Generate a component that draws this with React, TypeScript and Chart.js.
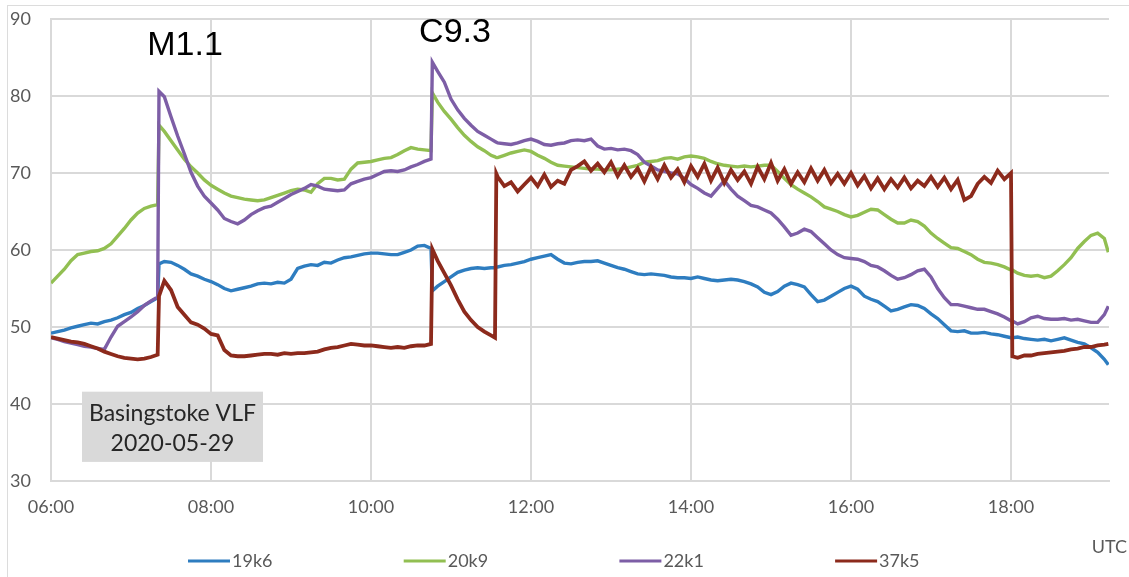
import React, { useEffect, useRef } from "react";
import { Chart, registerables } from "chart.js";

Chart.register(...registerables);

// Time axis: minutes after 06:00 UTC
const MINUTES = [
  0, 5, 10, 15, 20, 25, 30, 35, 40, 45, 50, 55, 60, 65, 70, 75, 80,
  81,
  85, 90, 95, 100, 105, 110, 115, 120, 125, 130, 135, 140, 145, 150, 155, 160, 165, 170, 175, 180,
  185, 190, 195, 200, 205, 210, 215, 220, 225, 230, 235, 240, 245, 250, 255, 260, 265, 270, 275, 280, 285,
  286,
  290, 295, 300, 305, 310, 315, 320, 325, 330,
  333, 334,
  335, 340, 345, 350, 355, 360, 365, 370, 375, 380, 385, 390, 395, 400, 405, 410, 415, 420,
  425, 430, 435, 440, 445, 450, 455, 460, 465, 470, 475, 480, 485, 490, 495, 500, 505, 510, 515, 520, 525, 530, 535, 540,
  545, 550, 555, 560, 565, 570, 575, 580, 585, 590, 595, 600, 605, 610, 615, 620, 625, 630, 635, 640, 645, 650, 655, 660,
  665, 670, 675, 680, 685, 690, 695, 700, 705, 710, 715, 720,
  721,
  725, 730, 735, 740, 745, 750, 755, 760, 765, 770, 775, 780, 785, 790,
  793,
];

const S19K6 = [
  49.2, 49.4, 49.6, 49.9, 50.1, 50.3, 50.5, 50.4, 50.7, 50.9, 51.2, 51.6, 51.9, 52.4, 52.8, 53.3, 53.8,
  58.2,
  58.5, 58.4, 58.0, 57.5, 56.9, 56.6, 56.2, 55.9, 55.5, 55.0, 54.7, 54.9, 55.1, 55.3, 55.6, 55.7, 55.6, 55.8, 55.7, 56.2,
  57.6, 57.9, 58.1, 58.0, 58.4, 58.3, 58.7, 59.0, 59.1, 59.3, 59.5, 59.6, 59.6, 59.5, 59.4, 59.4, 59.7, 60.0, 60.5, 60.6, 60.2,
  54.7,
  55.3, 55.9, 56.5, 57.1, 57.4, 57.6, 57.7, 57.6, 57.7,
  57.7, 57.8,
  57.8, 58.0, 58.1, 58.3, 58.5, 58.8, 59.0, 59.2, 59.4, 58.8, 58.3, 58.2, 58.4, 58.5, 58.5, 58.6, 58.3, 58.0,
  57.7, 57.5, 57.2, 56.9, 56.8, 56.9, 56.8, 56.7, 56.5, 56.4, 56.4, 56.3, 56.5, 56.3, 56.1, 56.0, 56.1, 56.2, 56.1, 55.9, 55.6, 55.2, 54.5, 54.2,
  54.6, 55.3, 55.7, 55.5, 55.2, 54.2, 53.3, 53.5, 54.0, 54.5, 55.0, 55.3, 54.9, 54.0, 53.6, 53.3, 52.7, 52.1, 52.3, 52.6, 52.9, 52.8, 52.4, 51.7,
  51.1, 50.3, 49.5, 49.4, 49.5, 49.2, 49.2, 49.3, 49.1, 49.0, 48.8, 48.6,
  48.6,
  48.7, 48.5, 48.4, 48.3, 48.4, 48.2, 48.4, 48.6, 48.3, 48.0, 47.8, 47.3, 46.7, 45.8,
  45.1,
];

const S20K9 = [
  55.7, 56.6, 57.5, 58.6, 59.4, 59.6, 59.8, 59.9, 60.2, 60.8, 61.8, 62.8, 63.9, 64.8, 65.4, 65.7, 65.9,
  76.2,
  75.4, 74.2, 73.0, 71.8, 70.8, 70.0, 69.1, 68.4, 67.9, 67.4, 67.0, 66.8, 66.6, 66.5, 66.4, 66.5, 66.8, 67.1, 67.4, 67.7,
  67.9, 67.8, 67.5, 68.6, 69.3, 69.3, 69.1, 69.2, 70.5, 71.3, 71.4, 71.5, 71.7, 71.9, 72.0, 72.4, 72.9, 73.3, 73.1, 73.0, 72.9,
  80.4,
  79.2, 78.0, 77.0, 75.9, 74.9, 74.1, 73.4, 72.9, 72.3,
  72.1, 72.0,
  72.0, 72.3, 72.6, 72.8, 73.0, 72.8, 72.3, 71.9, 71.4, 71.0, 70.9, 70.8, 70.7, 70.6, 70.5, 70.5, 70.4, 70.4,
  70.5, 70.6, 70.8, 71.0, 71.4, 71.5, 71.6, 71.9, 72.0, 71.8, 72.1, 72.2, 72.1, 71.9, 71.5, 71.2, 71.0, 70.9, 70.8, 70.9, 70.8, 70.9, 71.0, 71.0,
  70.2, 69.3, 68.5, 67.9, 67.4, 66.9, 66.3, 65.6, 65.3, 65.0, 64.6, 64.3, 64.5, 64.9, 65.3, 65.2, 64.6, 64.0, 63.5, 63.5, 63.9, 63.7, 63.1, 62.2,
  61.5, 60.9, 60.3, 60.2, 59.8, 59.4, 58.8, 58.4, 58.3, 58.1, 57.8, 57.4,
  57.4,
  57.0, 56.7, 56.6, 56.7, 56.4, 56.6, 57.3, 58.1, 59.0, 60.2, 61.1, 61.9, 62.2, 61.5,
  59.7,
];

const S22K1 = [
  48.6, 48.4, 48.1, 47.9, 47.7, 47.5, 47.4, 47.2, 47.1, 48.7, 50.1, 50.7, 51.3, 52.0, 52.8, 53.4, 53.9,
  80.6,
  79.9, 77.3, 74.8, 72.5, 70.1, 68.3, 67.0, 66.1, 65.2, 64.1, 63.7, 63.4, 63.9, 64.6, 65.1, 65.5, 65.7, 66.2, 66.7, 67.2,
  67.6, 68.0, 68.5, 68.3, 67.9, 67.8, 67.7, 67.8, 68.6, 68.9, 69.2, 69.4, 69.8, 70.2, 70.3, 70.2, 70.4, 70.8, 71.1, 71.5, 71.8,
  84.4,
  83.2, 81.8, 79.6, 78.2, 77.1, 76.2, 75.4, 74.9, 74.4,
  74.1, 74.0,
  73.9, 73.8, 73.7, 73.9, 74.2, 74.4, 74.1, 73.7, 73.6, 73.8, 73.9, 74.2, 74.3, 74.2, 74.4, 73.5, 73.1, 73.2,
  73.0, 73.1, 72.9, 72.4, 71.4, 70.9, 70.4, 70.2, 70.0, 69.9, 69.3, 68.5, 68.0, 67.4, 67.0, 68.0, 69.0, 67.9, 67.0, 66.4, 65.8, 65.6, 65.2, 64.8,
  64.0, 63.0, 61.9, 62.2, 62.7, 62.4, 61.6, 60.8, 60.0, 59.4, 59.0, 58.9, 58.8, 58.5, 58.0, 57.8, 57.3, 56.7, 56.2, 56.4, 56.8, 57.3, 57.5, 56.5,
  55.0, 53.8, 52.9, 52.9, 52.7, 52.5, 52.3, 52.3, 52.0, 51.7, 51.3, 50.8,
  50.8,
  50.4, 50.7, 51.2, 51.4, 51.1, 51.0, 51.0, 51.1, 50.9, 51.0, 50.8, 50.6, 50.6, 51.6,
  52.7,
];

const S37K5 = [
  48.7, 48.5, 48.3, 48.1, 48.0, 47.8, 47.5, 47.2, 46.8, 46.5, 46.2, 46.0, 45.9, 45.8, 45.9, 46.1, 46.4,
  54.0,
  56.0, 54.8, 52.6, 51.6, 50.6, 50.3, 49.8, 49.1, 48.9, 47.0, 46.3, 46.2, 46.2, 46.3, 46.4, 46.5, 46.5, 46.4, 46.6, 46.5,
  46.6, 46.6, 46.7, 46.8, 47.1, 47.3, 47.4, 47.6, 47.8, 47.7, 47.6, 47.6, 47.5, 47.4, 47.3, 47.4, 47.3, 47.5, 47.6, 47.6, 47.8,
  60.1,
  58.6, 57.0, 55.4, 53.6, 52.0, 50.9, 50.0, 49.4, 48.9,
  48.6, 69.9,
  69.5, 68.3, 68.8, 67.6, 68.5, 69.4, 68.3, 69.8, 68.2, 69.0, 68.6, 70.4, 70.9, 71.5, 70.3, 71.2, 70.1, 71.4,
  69.6, 71.0, 69.5, 70.6, 68.9, 70.8, 69.2, 71.0, 69.4, 70.5, 68.8, 70.9, 69.5, 71.2, 69.0, 70.7, 68.7, 70.4, 69.1, 70.2, 68.6, 70.8, 69.2, 71.3,
  69.0, 70.5, 68.6, 70.1, 68.8, 70.6, 69.0, 70.4, 68.7, 69.9, 68.6, 70.0, 68.4, 69.6, 68.0, 69.3, 67.9, 69.2, 68.1, 69.4, 68.0, 69.0, 68.3, 69.5,
  68.2, 69.4, 67.9, 69.1, 66.5, 67.0, 68.6, 69.5, 68.7, 70.3, 69.2, 70.0,
  46.2,
  46.0, 46.3, 46.3, 46.5, 46.6, 46.7, 46.8, 46.9, 47.1, 47.2, 47.4, 47.4, 47.6, 47.7,
  47.8,
];

const SERIES_NAMES = ["19k6", "20k9", "22k1", "37k5"];
const SERIES_COLORS = ["#2e7dc0", "#92bf52", "#7d5ea6", "#8c2a1c"];
const SERIES_WIDTHS = [3.4, 3.4, 3.4, 3.8];

const X_TICK_MINUTES = [0, 120, 240, 360, 480, 600, 720];
const X_TICK_LABELS = ["06:00", "08:00", "10:00", "12:00", "14:00", "16:00", "18:00"];
const X_MAX_MINUTES = 793.5;
const Y_MIN = 30;
const Y_MAX = 90;
const Y_STEP = 10;

const FLARE_LABELS = ["M1.1", "C9.3"];
const FLARE_MINUTES = [100.5, 303];
const FLARE_LEVELS = [86.6, 88.2];

const BOX_LINES = ["Basingstoke VLF", "2020-05-29"];
const AXIS_TITLE_X = "UTC";

const GRID = "#d9d9d9";
const TEXT_GRAY = "#595959";
const SANS = "Lato, 'Liberation Sans', sans-serif";

export default function App() {
  const ref = useRef<HTMLCanvasElement>(null);

  useEffect(() => {
    const canvas = ref.current;
    if (!canvas) return;
    const seriesValues = [S19K6, S20K9, S22K1, S37K5];
    const datasets = SERIES_NAMES.map((name, i) => ({
      label: name,
      data: seriesValues[i].map((v, j) => ({ x: MINUTES[j], y: v })),
      borderColor: SERIES_COLORS[i],
      backgroundColor: SERIES_COLORS[i],
      borderWidth: SERIES_WIDTHS[i],
      pointRadius: 0,
      tension: 0,
      fill: false,
      order: SERIES_NAMES.length - i,
    }));

    const overlay = {
      id: "overlay",
      afterDatasetsDraw(chart: any) {
        const { ctx } = chart;
        const xs = chart.scales.x;
        const ys = chart.scales.y;
        ctx.save();
        ctx.font = "34px 'Liberation Sans', Arial, sans-serif";
        ctx.fillStyle = "#000";
        ctx.textAlign = "center";
        ctx.textBaseline = "middle";
        FLARE_LABELS.forEach((t, i) => {
          ctx.fillText(t, xs.getPixelForValue(FLARE_MINUTES[i]), ys.getPixelForValue(FLARE_LEVELS[i]));
        });
        const bx0 = xs.getPixelForValue(23.25);
        const bx1 = xs.getPixelForValue(159);
        const by0 = ys.getPixelForValue(41.6);
        const by1 = ys.getPixelForValue(32.48);
        ctx.fillStyle = "#d9d9d9";
        ctx.fillRect(bx0, by0, bx1 - bx0, by1 - by0);
        ctx.fillStyle = "#262626";
        ctx.font = `23px ${SANS}`;
        const cx = (bx0 + bx1) / 2;
        ctx.fillText(BOX_LINES[0], cx, by0 + 22);
        ctx.fillText(BOX_LINES[1], cx, by0 + 52);
        ctx.restore();
      },
      afterDraw(chart: any) {
        const { ctx } = chart;
        ctx.save();
        ctx.font = `18px ${SANS}`;
        ctx.textBaseline = "middle";
        const legendY = 561;
        chart.data.datasets.forEach((ds: any, i: number) => {
          const x = 188 + i * 215.7;
          ctx.strokeStyle = ds.borderColor;
          ctx.lineWidth = 3;
          ctx.beginPath();
          ctx.moveTo(x, legendY);
          ctx.lineTo(x + 42, legendY);
          ctx.stroke();
          ctx.fillStyle = TEXT_GRAY;
          ctx.textAlign = "left";
          ctx.fillText(ds.label, x + 44, legendY);
        });
        ctx.textAlign = "right";
        ctx.fillText(AXIS_TITLE_X, 1127, 547);
        ctx.restore();
      },
    };

    const chart = new Chart(canvas, {
      type: "line",
      data: { datasets },
      options: {
        animation: false,
        responsive: false,
        maintainAspectRatio: false,
        layout: { padding: { left: 10, right: 20, top: 19, bottom: 56 } },
        plugins: { legend: { display: false }, tooltip: { enabled: false } },
        scales: {
          x: {
            type: "linear",
            min: 0,
            max: X_MAX_MINUTES,
            afterBuildTicks: (s: any) => {
              s.ticks = X_TICK_MINUTES.map((v) => ({ value: v }));
            },
            afterFit: (s: any) => {
              s.height = 40;
            },
            ticks: {
              callback: (_v: any, idx: number) => X_TICK_LABELS[idx],
              font: { family: SANS, size: 18 },
              color: TEXT_GRAY,
              padding: 15,
              maxRotation: 0,
              autoSkip: false,
            },
            grid: { color: GRID, lineWidth: 2, drawTicks: false },
            border: { color: GRID, width: 2 },
          },
          y: {
            min: Y_MIN,
            max: Y_MAX,
            afterFit: (s: any) => {
              s.width = 41;
            },
            ticks: {
              stepSize: Y_STEP,
              font: { family: SANS, size: 18 },
              color: TEXT_GRAY,
              padding: 0,
              crossAlign: "far",
            },
            grid: { color: GRID, lineWidth: 2, drawTicks: false },
            border: { color: GRID, width: 2 },
          },
        },
      },
      plugins: [overlay],
    } as any);
    return () => chart.destroy();
  }, []);

  return (
    <div
      style={{
        position: "fixed",
        left: 0,
        top: 0,
        width: 1129,
        height: 577,
        background: "#fff",
        overflow: "hidden",
      }}
    >
      <canvas ref={ref} width={1129} height={577} style={{ position: "absolute", left: 0, top: 0 }} />
      <div
        style={{
          position: "absolute",
          left: 7,
          top: 5,
          width: 1400,
          height: 900,
          border: "1px solid #dcdcdc",
          pointerEvents: "none",
        }}
      />
    </div>
  );
}
